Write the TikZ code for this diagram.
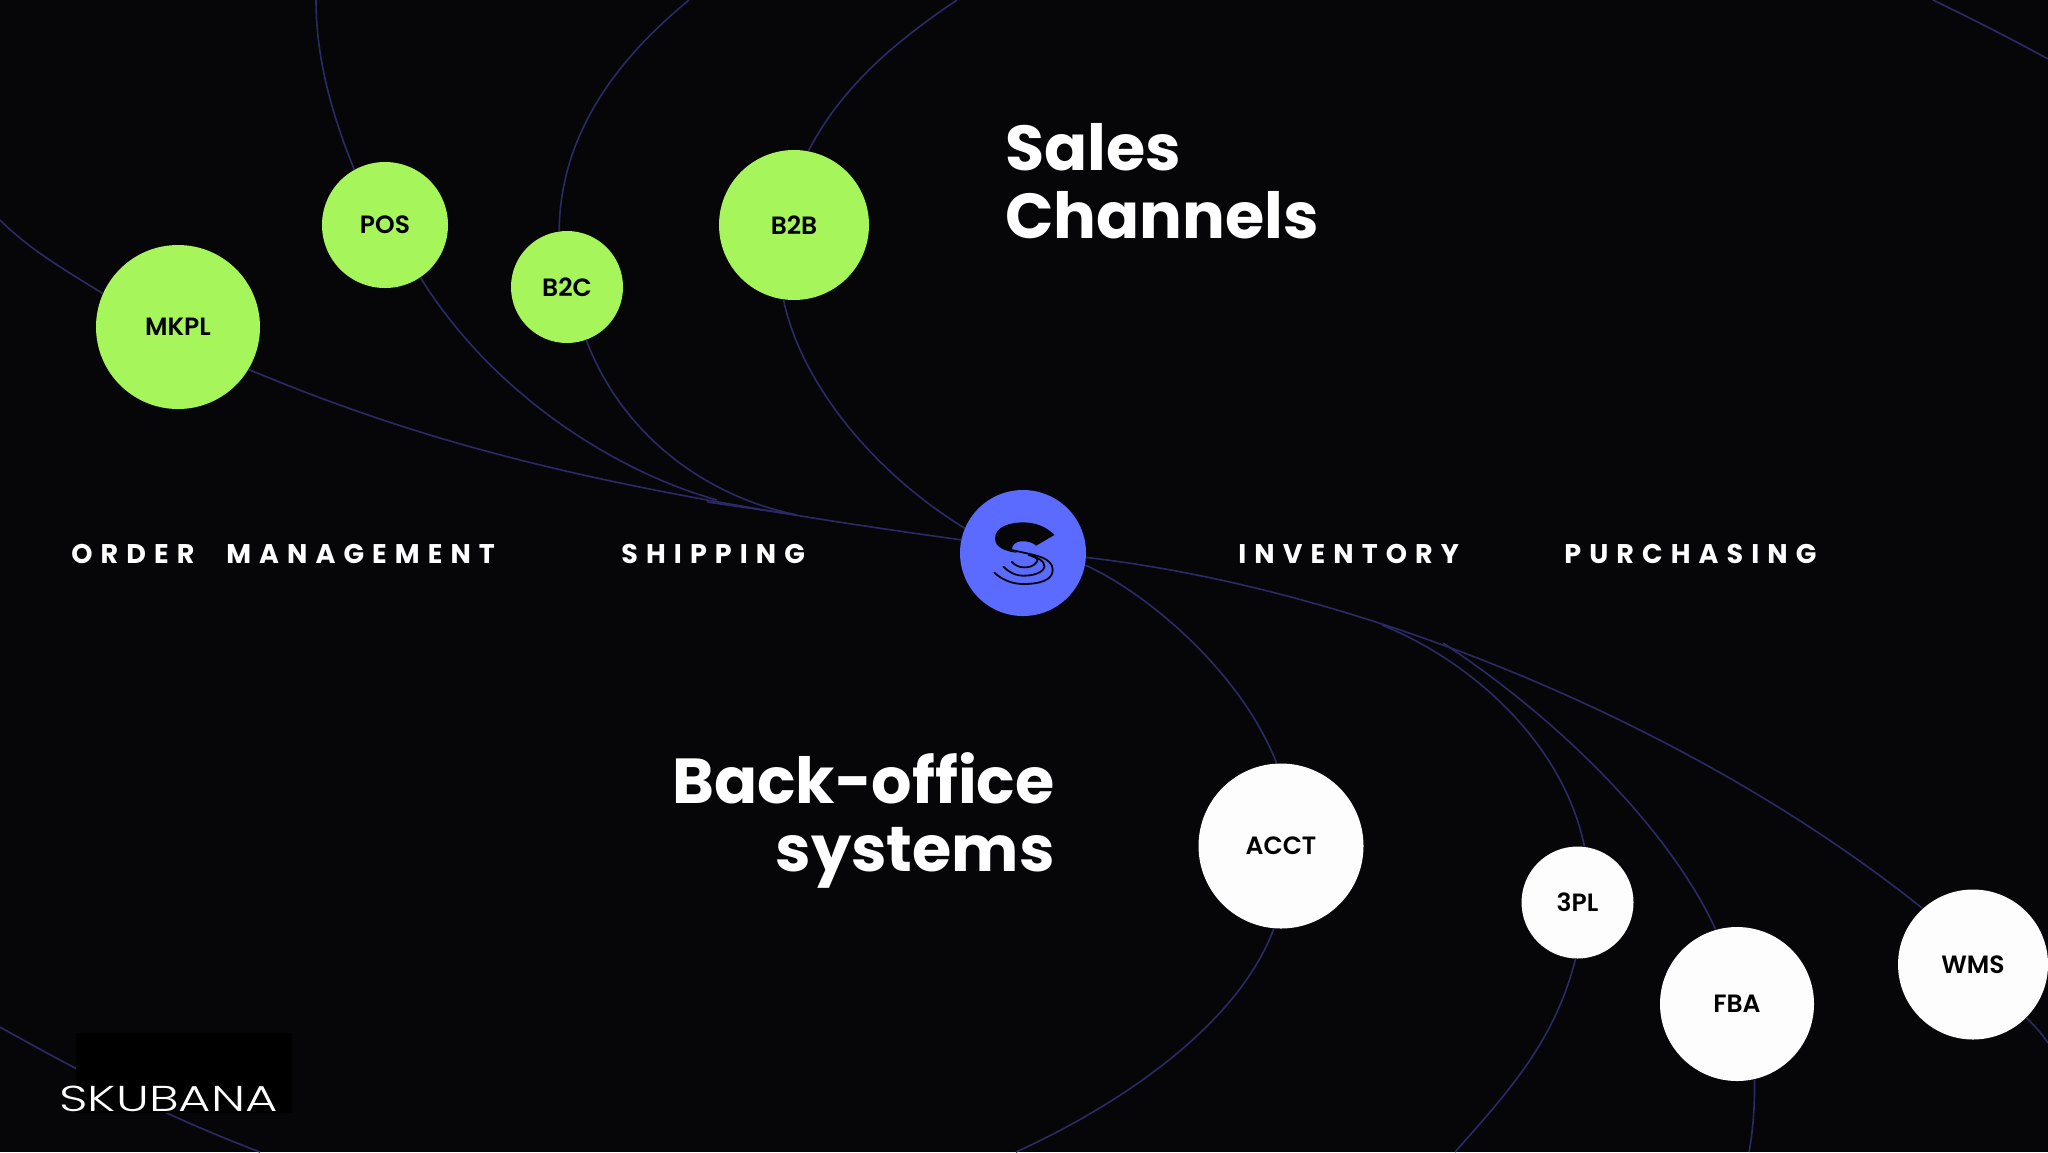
\documentclass[tikz,border=0pt]{standalone}
\usepackage{fontspec}
\setmainfont{Poppins}
\newfontfamily\medfont{Poppins SemiBold}
\newfontfamily\logofont{Poppins Light}
\newfontfamily\spacedfont[LetterSpace=30]{Poppins}
\usepackage{tikz}
\definecolor{bgdark}{HTML}{060608}
\definecolor{limegreen}{HTML}{A6F55B}
\definecolor{hubblue}{HTML}{5B6BFF}
\definecolor{offwhite}{HTML}{FDFDFD}
\definecolor{linkblue}{HTML}{2C2A66}
\tikzstyle{channel} = [circle,
inner sep=0pt,
text centered,
fill=limegreen,
text=black,
font=\medfont\fontsize{12.5}{14}\selectfont]
\tikzstyle{backoffice} = [circle,
inner sep=0pt,
text centered,
fill=offwhite,
text=black,
font=\medfont\fontsize{12.5}{14}\selectfont]
\tikzstyle{hubnode} = [circle,
inner sep=0pt,
minimum size=63pt,
fill=hubblue]
\tikzstyle{heading} = [inner sep=0pt,
text=white,
font=\bfseries\fontsize{31.8}{34}\selectfont]
\tikzstyle{spaced} = [inner sep=0pt,
anchor=base west,
text=white,
font=\spacedfont\bfseries\fontsize{13.5}{16}\selectfont]
\tikzstyle{link} = [line width=0.8pt, draw=linkblue]
\tikzstyle{ripple} = [line width=0.9pt, draw=bgdark, line cap=round]

\begin{document}
\begin{tikzpicture}[x=0.5pt,y=-0.5pt,node distance=100pt]
            \fill [bgdark] (0,0) rectangle (2048,1152);
            \useasboundingbox (0,0) rectangle (2048,1152);

            \node (mkpl) [channel, minimum size=82pt] at (178,327) {MKPL};
            \node (pos) [channel, minimum size=63pt, right of=mkpl, xshift=3.5pt, yshift=51pt] {POS};
            \node (b2c) [channel, minimum size=56pt, right of=pos, xshift=-9pt, yshift=-31pt] {B2C};
            \node (b2b) [channel, minimum size=75pt, right of=b2c, xshift=13.5pt, yshift=31pt] {B2B};
            \node (hub) [hubnode, right of=b2b, xshift=14.5pt, yshift=-164pt] {};
            \node (acct) [backoffice, minimum size=82.5pt, right of=hub, xshift=29pt, yshift=-146.5pt] {ACCT};
            \node (tpl) [backoffice, minimum size=56pt, right of=acct, xshift=48.25pt, yshift=-28.25pt] {3PL};
            \node (fba) [backoffice, minimum size=77pt, right of=tpl, xshift=-20.25pt, yshift=-50.75pt] {FBA};
            \node (wms) [backoffice, minimum size=75pt, right of=fba, xshift=18pt, yshift=19.75pt] {WMS};

            % free ends
            \coordinate (leftedge) at (0,220);
            \coordinate (postop) at (316,0);
            \coordinate (b2ctop) at (689,0);
            \coordinate (b2btop) at (957,0);
            \coordinate (mergepos) at (717,500);
            \coordinate (mergeb2c) at (797,515);
            \coordinate (stubleft) at (707,502);
            \coordinate (merge3pl) at (1382,625);
            \coordinate (mergefba) at (1443,643);
            \coordinate (acctend) at (1016,1152);
            \coordinate (tplend) at (1455,1152);
            \coordinate (fbaend) at (1749,1152);
            \coordinate (wmsend) at (2048,1043);
            \coordinate (cornerin) at (1933,0);
            \coordinate (cornerout) at (2048,59);
            \coordinate (logoin) at (0,1027);
            \coordinate (logoout) at (260,1152);

            \draw [link] (mkpl.156) .. controls (65,270) and (30,250) .. (leftedge);
            \draw [link] (mkpl.-31) .. controls (430,445) and (600,490) .. (hub.168);
            \draw [link] (pos.119) .. controls (330,110) and (316,55) .. (postop);
            \draw [link] (pos.-56) .. controls (490,390) and (610,470) .. (mergepos);
            \draw [link] (b2c.98) .. controls (560,140) and (610,65) .. (b2ctop);
            \draw [link] (b2c.-70) .. controls (620,430) and (700,495) .. (mergeb2c);
            \draw [link] (stubleft) -- (mergeb2c);
            \draw [link] (b2b.79) .. controls (840,90) and (890,45) .. (b2btop);
            \draw [link] (b2b.-98) .. controls (800,380) and (870,470) .. (hub.157);
            \draw [link] (hub.-4.5) .. controls (1370,590) and (1700,730) .. (wms.132);
            \draw [link] (hub.-11) .. controls (1145,592) and (1240,670) .. (acct.93);
            \draw [link] (acct.-95) .. controls (1240,1020) and (1130,1100) .. (acctend);
            \draw [link] (merge3pl) .. controls (1480,665) and (1565,750) .. (tpl.83);
            \draw [link] (tpl.-92) .. controls (1555,1040) and (1510,1090) .. (tplend);
            \draw [link] (mergefba) .. controls (1560,720) and (1670,830) .. (fba.106);
            \draw [link] (fba.-77) .. controls (1755,1105) and (1753,1130) .. (fbaend);
            \draw [link] (wms.-45) .. controls (2035,1026) and (2042,1034) .. (wmsend);
            \draw [link] (cornerin) .. controls (1970,18) and (2010,38) .. (cornerout);
            \draw [link] (logoin) .. controls (85,1075) and (170,1118) .. (logoout);

            % logo in the hub
            \begin{scope}[shift={(900,460)},x=0.1667pt,y=-0.1667pt]
            \fill [bgdark] (463,225) -- (408,257) .. controls (395,243) and (350,235) .. (338,258)
                .. controls (332,270) and (340,276) .. (352,279)
                .. controls (320,274) and (285,265) .. (285,235)
                .. controls (285,200) and (330,187) .. (370,187)
                .. controls (405,187) and (440,200) .. (463,225) -- cycle;
            \draw [ripple] (335,270) .. controls (400,285) and (458,290) .. (458,330)
                .. controls (458,362) and (415,372) .. (370,372)
                .. controls (335,372) and (305,358) .. (283,338);
            \draw [ripple] (385,285) .. controls (415,292) and (435,305) .. (433,320)
                .. controls (430,338) and (400,347) .. (370,347)
                .. controls (345,347) and (325,335) .. (310,320);
            \draw [ripple] (395,288) .. controls (410,292) and (415,300) .. (410,306)
                .. controls (400,320) and (385,322) .. (372,322)
                .. controls (355,322) and (345,315) .. (335,305);
            \end{scope}

            % logo box and wordmark
            \node (logobox) [fill=black, inner sep=0pt, minimum width=108pt, minimum height=40pt, anchor=north west] at (76,1033) {};
            \node (wordmark) [inner sep=0pt, anchor=base west, text=white, xscale=1.38, font=\logofont\fontsize{18}{20}\selectfont] at (59,1111) {SKUBANA};

            % headings
            \node (sales) [heading, anchor=base west, align=left] at (1005,238) {Sales\\Channels};
            \node (backoffice) [heading, anchor=base east, align=right] at (1055,871) {Back-office\\systems};

            % feature labels
            \node (ordermgmt) [spaced] at (71,563) {ORDER\hspace{9pt} MANAGEMENT};
            \node (shipping) [spaced] at (621,563) {SHIPPING};
            \node (inventory) [spaced] at (1238,563) {INVENTORY};
            \node (purchasing) [spaced] at (1564,563) {PURCHASING};
        \end{tikzpicture}
\end{document}
